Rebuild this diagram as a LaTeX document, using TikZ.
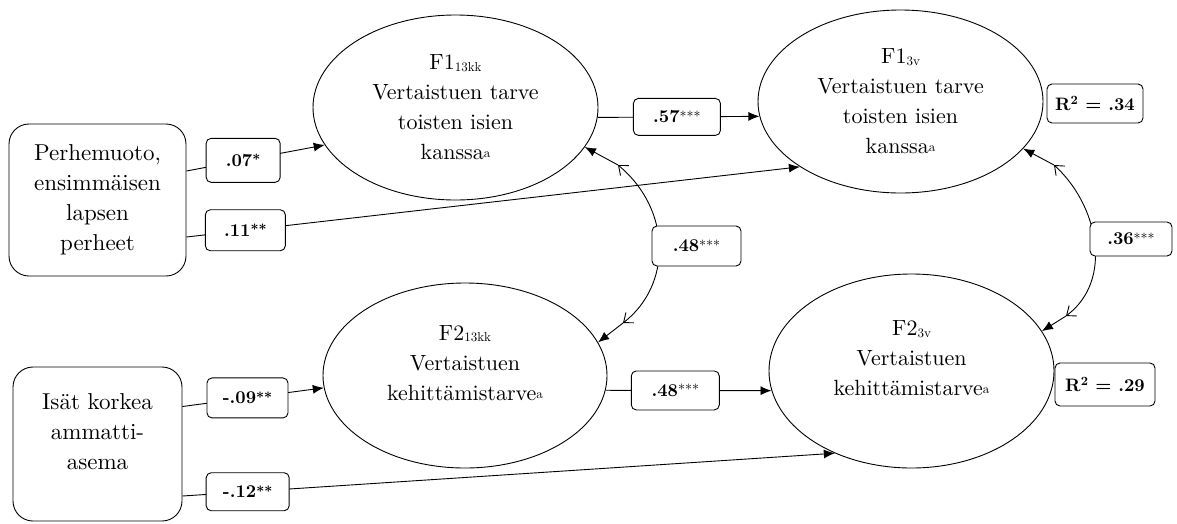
\documentclass[tikz,border=0pt]{standalone}
\usepackage{fontspec}
\setmainfont{lmroman10-regular.otf}[BoldFont=lmroman10-bold.otf]
\usetikzlibrary{arrows.meta,shapes.geometric}
\newcommand\mysub[1]{\raisebox{-1.5pt}{\fontsize{13}{13}\selectfont #1}}
\newcommand\mysupa{\raisebox{2pt}{\fontsize{13}{13}\selectfont a}}
\newcommand\mystars[1]{\raisebox{1.5pt}{\fontsize{14}{14}\selectfont\mdseries #1}}
\newcommand\mybstars[1]{\raisebox{1.5pt}{\fontsize{14}{14}\selectfont #1}}
\begin{document}
\begin{tikzpicture}[x=1pt,y=-1pt,line width=0.9pt,
  obs/.style={draw, rounded corners=20pt, align=center, inner sep=0pt,
    font=\fontsize{23}{30}\selectfont},
  lat/.style={draw, ellipse, align=center, inner sep=0pt,
    font=\fontsize{22}{30}\selectfont},
  lab/.style={draw, rounded corners=5pt, fill=white, inner sep=0pt,
    font=\fontsize{18}{20}\selectfont\bfseries},
  reg/.style={-{Latex[length=11pt,width=9pt]}},
  cov/.style={{Straight Barb[length=8pt,width=13pt]}-{Straight Barb[length=8pt,width=13pt]}}]
\useasboundingbox (0,0) rectangle (1177,523);
% observed variables
\node[obs, minimum width=177pt, minimum height=152pt] (P) at (97.5,200)
  {Perhemuoto,\\ensimmäisen\\lapsen\\perheet};
\node[obs, minimum width=169pt, minimum height=154pt] (I) at (97.5,444)
  {Isät korkea\\ammatti-\\asema\\[-5pt]\mbox{}};
% latent variables
\node[lat, minimum width=285pt, minimum height=185pt] (F1a) at (455.5,107.5)
  {F1\mysub{13kk}\\Vertaistuen tarve\\toisten isien\\kanssa\mysupa};
\node[lat, minimum width=285pt, minimum height=183pt] (F1b) at (900.5,101.5)
  {F1\mysub{3v}\\Vertaistuen tarve\\toisten isien\\kanssa\mysupa};
\node[lat, minimum width=284pt, minimum height=185pt] (F2a) at (465,375.5)
  {F2\mysub{13kk}\\Vertaistuen\\kehittämistarve\mysupa\\[-5pt]\mbox{}};
\node[lat, minimum width=285pt, minimum height=194pt] (F2b) at (911.5,371)
  {F2\mysub{3v}\\Vertaistuen\\kehittämistarve\mysupa\\[-5pt]\mbox{}};
% regressions
\draw[reg] ([yshift=29pt]P.east) -- node[lab, pos=0.41, minimum width=74pt, minimum height=44pt] (l07) {.07\mybstars{*}} (F1a.196);
\draw[reg] ([yshift=-37pt]P.east) -- node[lab, pos=0.096, minimum width=80pt, minimum height=41pt] (l11) {.11\mybstars{**}} (F1b.213);
\draw[reg] ([yshift=37.5pt]I.east) -- node[lab, pos=0.46, minimum width=81pt, minimum height=40pt] (l09) {-.09\mybstars{**}} (F2a.185);
\draw[reg] ([yshift=-52pt]I.east) -- node[lab, pos=0.10, minimum width=83pt, minimum height=38pt] (l12) {-.12\mybstars{**}} (F2b.227);
\draw[reg] (F1a.-4) -- node[lab, pos=0.49, minimum width=87pt, minimum height=37pt] (l57) {.57\mystars{***}} (F1b.186);
\draw[reg] (F2a.-6) -- node[lab, pos=0.42, minimum width=88pt, minimum height=39pt] (l48b) {.48\mystars{***}} (F2b.188);
% covariance F1_13kk - F2_13kk
\coordinate (ca1) at (618,165);
\coordinate (ca2) at (623,323);
\draw[reg] (ca1) -- (F1a.-17);
\draw[reg] (ca2) -- (F2a.14);
\draw[cov] (ca1) .. controls (672,210) and (672,285) .. (ca2);
\node[lab, minimum width=89pt, minimum height=40pt] (l48a) at (696.5,246) {.48\mystars{***}};
% covariance F1_3v - F2_3v
\coordinate (cb1) at (1054,165);
\coordinate (cb2) at (1066,316);
\draw[reg] (cb1) -- (F1b.-21);
\draw[reg] (cb2) -- (F2b.17);
\draw[cov] (cb1) .. controls (1098,205) and (1114,280) .. (cb2);
\node[lab, minimum width=82pt, minimum height=34pt] (l36) at (1131,239) {.36\mystars{***}};
% R squared
\node[lab, minimum width=96pt, minimum height=39pt] (r1) at (1095,103.5) {R\textsuperscript{2} = .34};
\node[lab, minimum width=100pt, minimum height=43pt] (r2) at (1105,384.5) {R\textsuperscript{2} = .29};
\end{tikzpicture}
\end{document}
